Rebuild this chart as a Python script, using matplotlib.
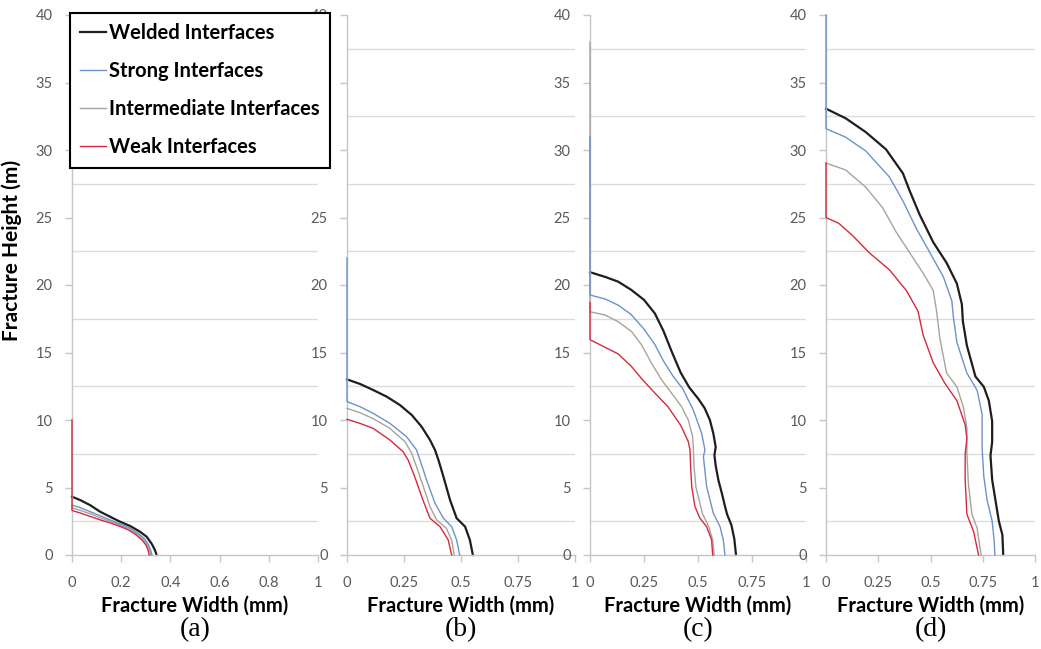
import matplotlib
matplotlib.use("Agg")
import matplotlib.pyplot as plt
from matplotlib.ticker import FormatStrFormatter

plt.rcParams['font.family'] = ['Lato', 'DejaVu Sans']

# (fracture width in mm, fracture height in m)
a_welded = [(0, 4.32), (0.033, 4.07), (0.073, 3.7), (0.114, 3.21), (0.154, 2.84), (0.195, 2.47),
            (0.236, 2.15), (0.276, 1.73), (0.303, 1.36), (0.323, 0.86), (0.337, 0.37), (0.344, 0)]
a_strong = [(0, 3.7), (0.035, 3.5), (0.075, 3.2), (0.115, 2.9), (0.155, 2.6), (0.195, 2.3),
            (0.235, 2.0), (0.27, 1.6), (0.295, 1.2), (0.31, 0.8), (0.32, 0.35), (0.325, 0)]
a_inter = [(0, 3.5), (0.035, 3.3), (0.075, 3.05), (0.115, 2.75), (0.155, 2.5), (0.195, 2.2),
           (0.235, 1.9), (0.265, 1.55), (0.29, 1.15), (0.305, 0.75), (0.315, 0.35), (0.32, 0)]
a_weak = [(0, 10), (0, 3.3), (0.035, 3.1), (0.075, 2.85), (0.115, 2.6), (0.155, 2.38), (0.195, 2.12),
          (0.23, 1.85), (0.26, 1.5), (0.285, 1.1), (0.302, 0.7), (0.31, 0.3), (0.314, 0)]

b_welded = [(0, 13.01), (0.057, 12.67), (0.115, 12.22), (0.174, 11.73), (0.232, 11.11), (0.284, 10.37),
            (0.327, 9.51), (0.364, 8.52), (0.386, 7.78), (0.401, 7.04), (0.423, 5.8), (0.452, 4.07),
            (0.481, 2.72), (0.518, 2.1), (0.539, 1.11), (0.552, 0)]
b_strong = [(0, 22), (0, 11.36), (0.057, 10.99), (0.115, 10.49), (0.188, 9.75), (0.261, 8.77),
            (0.305, 7.78), (0.32, 7.04), (0.349, 5.56), (0.386, 3.83), (0.423, 2.72), (0.459, 2.1),
            (0.481, 1.11), (0.494, 0)]
b_inter = [(0, 10.86), (0.057, 10.54), (0.115, 10.1), (0.188, 9.38), (0.254, 8.4), (0.284, 7.53),
           (0.305, 6.54), (0.335, 5.06), (0.364, 3.58), (0.393, 2.6), (0.436, 1.98), (0.459, 1.11),
           (0.47, 0)]
b_weak = [(0, 10.05), (0.057, 9.75), (0.115, 9.38), (0.188, 8.52), (0.246, 7.65), (0.268, 7.04),
          (0.297, 5.8), (0.333, 4.07), (0.364, 2.72), (0.408, 2.1), (0.444, 1.11), (0.459, 0)]

c_welded = [(0, 20.95), (0.07, 20.6), (0.13, 20.25), (0.19, 19.65), (0.25, 18.9), (0.30, 17.9),
            (0.34, 16.6), (0.38, 15.0), (0.42, 13.5), (0.46, 12.4), (0.50, 11.6), (0.53, 10.9),
            (0.555, 10.0), (0.571, 9.0), (0.582, 8.0), (0.576, 7.4), (0.582, 6.6), (0.595, 5.5),
            (0.61, 4.6), (0.625, 3.6), (0.635, 3.0), (0.655, 2.2), (0.668, 1.2), (0.676, 0)]
c_strong = [(0, 31), (0, 19.26), (0.072, 18.95), (0.131, 18.5), (0.188, 17.85), (0.247, 16.79),
            (0.30, 15.6), (0.339, 14.4), (0.386, 13.21), (0.43, 12.3), (0.478, 10.74), (0.517, 9.01),
            (0.532, 7.78), (0.525, 7.28), (0.54, 5.06), (0.571, 3.09), (0.602, 2.1), (0.617, 1.11),
            (0.625, 0)]
c_inter = [(0, 38), (0, 18.02), (0.069, 17.78), (0.131, 17.28), (0.193, 16.54), (0.239, 15.56),
           (0.285, 14.2), (0.332, 12.96), (0.378, 11.98), (0.424, 10.99), (0.455, 10.0), (0.475, 8.77),
           (0.478, 8.0), (0.482, 6.5), (0.49, 5.06), (0.52, 3.09), (0.55, 2.1), (0.568, 1.11),
           (0.575, 0)]
c_weak = [(0, 18.7), (0, 15.95), (0.08, 15.3), (0.13, 14.9), (0.19, 14.0), (0.245, 12.95),
          (0.30, 12.0), (0.36, 11.0), (0.42, 9.6), (0.455, 8.4), (0.463, 7.78), (0.466, 6.5),
          (0.471, 5.06), (0.486, 3.58), (0.509, 2.72), (0.54, 2.1), (0.563, 1.11), (0.568, 0)]

d_welded = [(0, 33.06), (0.094, 32.35), (0.19, 31.33), (0.287, 30.05), (0.368, 28.27), (0.40, 26.99),
            (0.448, 25.21), (0.513, 23.17), (0.577, 21.64), (0.626, 20.11), (0.65, 18.58),
            (0.655, 17.3), (0.674, 15.52), (0.715, 13.22), (0.755, 12.46), (0.779, 11.44),
            (0.795, 9.91), (0.795, 8.38), (0.787, 7.36), (0.795, 5.57), (0.811, 4.04), (0.827, 2.51),
            (0.844, 1.49), (0.848, 0)]
d_strong = [(0, 40), (0, 31.58), (0.094, 30.95), (0.19, 29.93), (0.303, 28.01), (0.368, 26.23),
            (0.432, 24.19), (0.497, 22.4), (0.561, 20.62), (0.602, 18.83), (0.61, 17.56),
            (0.626, 15.77), (0.674, 13.48), (0.723, 12.2), (0.747, 10.42), (0.747, 7.87),
            (0.755, 5.83), (0.771, 4.04), (0.795, 2.51), (0.805, 0.98), (0.808, 0)]
d_inter = [(0, 29.03), (0.094, 28.52), (0.19, 27.25), (0.271, 25.72), (0.335, 23.94), (0.40, 22.4),
           (0.465, 20.87), (0.513, 19.6), (0.529, 18.07), (0.545, 16.03), (0.577, 13.48),
           (0.626, 12.46), (0.658, 10.93), (0.674, 9.4), (0.674, 7.62), (0.681, 5.32),
           (0.698, 3.02), (0.723, 2.0), (0.742, 0)]
d_weak = [(0, 29.03), (0, 25.0), (0.061, 24.57), (0.126, 23.68), (0.206, 22.4), (0.303, 21.13),
          (0.384, 19.6), (0.44, 18.07), (0.465, 16.28), (0.513, 14.24), (0.569, 12.71),
          (0.626, 11.44), (0.666, 9.65), (0.674, 8.63), (0.666, 7.49), (0.666, 5.57), (0.674, 3.02),
          (0.706, 1.75), (0.73, 0)]

panels = ['(a)', '(b)', '(c)', '(d)']
series_names = ['Welded Interfaces', 'Strong Interfaces', 'Intermediate Interfaces', 'Weak Interfaces']
panel_data = [[a_welded, a_strong, a_inter, a_weak],
              [b_welded, b_strong, b_inter, b_weak],
              [c_welded, c_strong, c_inter, c_weak],
              [d_welded, d_strong, d_inter, d_weak]]
xticks_a = [0, 0.2, 0.4, 0.6, 0.8, 1]
xticks_bcd = [0, 0.25, 0.5, 0.75, 1]
yticks = [0, 5, 10, 15, 20, 25, 30, 35, 40]
grid_levels = [2.5, 7.5, 12.5, 17.5, 22.5, 27.5, 32.5, 37.5]

colors = ['#1e1e1e', '#6a93c9', '#a9a399', '#d9283c']
widths = [1.6, 1.0, 1.0, 1.0]
zorders = [2, 4, 3, 5]

axis_col = '#c6c6c6'
tick_col = '#595959'

fig = plt.figure(figsize=(10.41, 6.49), dpi=100)
H = 649.0
W = 1041.0
boxes = [(72, 246), (347, 228), (590, 216), (826, 209)]

handles = []
for i, (left, width) in enumerate(boxes):
    ax = fig.add_axes([left / W, (H - 555) / H, width / W, 540 / H])
    for j, pts in enumerate(panel_data[i]):
        xs = [p[0] for p in pts]
        ys = [p[1] for p in pts]
        ln, = ax.plot(xs, ys, color=colors[j], lw=widths[j], zorder=zorders[j],
                      clip_on=False, solid_joinstyle='round')
        if i == 0:
            handles.append(ln)
    ax.set_xlim(0, 1)
    ax.set_ylim(0, 40)
    ax.set_xticks(xticks_a if i == 0 else xticks_bcd)
    ax.xaxis.set_major_formatter(FormatStrFormatter('%g'))
    ax.set_yticks(yticks)
    ax.set_yticks(grid_levels, minor=True)
    ax.grid(True, which='minor', axis='y', color='#dcdcdc', lw=1.0)
    ax.tick_params(which='minor', length=0)
    ax.tick_params(which='major', length=5, width=1, color=axis_col, labelcolor=tick_col,
                   labelsize=10.5, pad=9)
    ax.tick_params(axis='x', pad=10)
    for s in ['top', 'right']:
        ax.spines[s].set_visible(False)
    for s in ['left', 'bottom']:
        ax.spines[s].set_color(axis_col)
        ax.spines[s].set_linewidth(1.0)
    ax.set_xlabel('Fracture Width (mm)', fontsize=14.5, fontweight='bold', labelpad=4)
    if i == 0:
        ax.set_ylabel('Fracture Height (m)', fontsize=15, fontweight='bold')
        ax.yaxis.set_label_coords(-50 / width, (555 - 250) / 540)
    fig.text((left + width / 2) / W, 1 - 630 / H, panels[i], ha='center', va='center',
             fontsize=20, family='Liberation Serif')

leg = fig.legend(handles, series_names, loc='upper left', bbox_to_anchor=(70 / W, 1 - 13 / H),
                 borderaxespad=0, fancybox=False, framealpha=1, edgecolor='black',
                 prop={'weight': 'bold', 'size': 14.5}, handlelength=1.3, handletextpad=0.15,
                 labelspacing=0.9, borderpad=0.5)
leg.get_frame().set_linewidth(1.5)

fig.savefig('out.png', dpi=100)
